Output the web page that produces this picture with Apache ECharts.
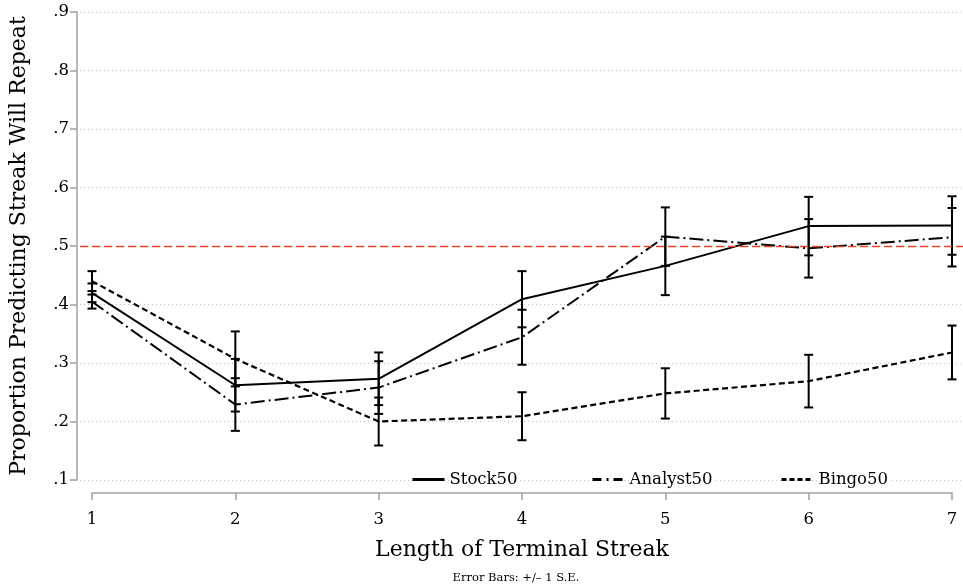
<!DOCTYPE html>
<html>
<head>
<meta charset="utf-8">
<script src="https://cdn.jsdelivr.net/npm/echarts@6/dist/echarts.min.js"></script>
<style>html,body{margin:0;padding:0;background:#fff}#c{width:963px;height:584px}</style>
</head>
<body>
<div id="c"></div>
<script>
const streakLengths = [1, 2, 3, 4, 5, 6, 7];
const stock50 = [0.420, 0.262, 0.273, 0.409, 0.466, 0.534, 0.535];
const stock50SE = [0.016, 0.045, 0.045, 0.048, 0.050, 0.050, 0.050];
const analyst50 = [0.405, 0.229, 0.258, 0.344, 0.516, 0.496, 0.515];
const analyst50SE = [0.012, 0.045, 0.045, 0.047, 0.050, 0.050, 0.050];
const bingo50 = [0.440, 0.307, 0.200, 0.209, 0.248, 0.269, 0.318];
const bingo50SE = [0.017, 0.047, 0.041, 0.041, 0.043, 0.045, 0.046];
const yTicks = [0.1, 0.2, 0.3, 0.4, 0.5, 0.6, 0.7, 0.8, 0.9];
const referenceLevel = 0.5;

const FONT = 'DejaVu Serif';
const chart = echarts.init(document.getElementById('c'));

function pairs(vals) { return streakLengths.map((x, i) => [x, vals[i]]); }
function bars(vals, se) { return streakLengths.map((x, i) => [x, vals[i] - se[i], vals[i] + se[i]]); }
function renderErr(params, api) {
  const x = api.value(0);
  const lo = api.coord([x, api.value(1)]);
  const hi = api.coord([x, api.value(2)]);
  const hw = 4.5;
  const st = { stroke: '#000', lineWidth: 2 };
  return {
    type: 'group',
    children: [
      { type: 'line', shape: { x1: lo[0], y1: lo[1], x2: hi[0], y2: hi[1] }, style: st },
      { type: 'line', shape: { x1: lo[0] - hw, y1: lo[1], x2: lo[0] + hw, y2: lo[1] }, style: st },
      { type: 'line', shape: { x1: hi[0] - hw, y1: hi[1], x2: hi[0] + hw, y2: hi[1] }, style: st }
    ]
  };
}

const lineStyles = {
  Stock50: { color: '#000', width: 2, type: 'solid' },
  Analyst50: { color: '#000', width: 2, type: [14, 4, 2, 4] },
  Bingo50: { color: '#000', width: 2.2, type: [6, 3.5] }
};
const legendDash = { Stock50: 'solid', Analyst50: [9, 5, 2, 5], Bingo50: [5, 3] };

function legendAt(name, left) {
  return {
    data: [name], left: left, top: 470, padding: 0, itemWidth: 32, itemHeight: 14, itemGap: 0,
    itemStyle: { opacity: 0 },
    lineStyle: { width: 3, type: legendDash[name] },
    textStyle: { fontFamily: FONT, fontSize: 16.5, color: '#000', backgroundColor: '#fff', padding: [1, 2, 1, 0] },
    selectedMode: false
  };
}

chart.setOption({
  animation: false,
  backgroundColor: '#fff',
  grid: [
    { left: 91, right: 11, top: 12, bottom: 104 },
    { left: 80, right: 0, top: 12, bottom: 104 }
  ],
  title: {
    text: 'Error Bars: +/\u2013 1 S.E.', left: 511, top: 567, textAlign: 'center',
    textStyle: { fontFamily: FONT, fontSize: 11.5, fontWeight: 'normal', color: '#000' }
  },
  legend: [legendAt('Stock50', 411), legendAt('Analyst50', 591), legendAt('Bingo50', 780)],
  xAxis: [
    {
      gridIndex: 0, type: 'value', min: 1, max: 7, interval: 1, offset: 13,
      name: 'Length of Terminal Streak', nameLocation: 'middle', nameGap: 46,
      nameTextStyle: { fontFamily: FONT, fontSize: 22, color: '#000' },
      axisLine: { lineStyle: { color: '#a0a0a0', width: 1.5 } },
      axisTick: { length: 7, lineStyle: { color: '#a0a0a0', width: 1.5 } },
      axisLabel: { fontFamily: FONT, fontSize: 16.5, color: '#000', margin: 18 },
      splitLine: { show: false }
    },
    { gridIndex: 1, type: 'value', min: 0, max: 1, show: false }
  ],
  yAxis: [
    {
      gridIndex: 0, type: 'value', min: 0.1, max: 0.9, interval: 0.1, offset: 15,
      name: 'Proportion Predicting Streak Will Repeat', nameLocation: 'middle', nameGap: 47,
      nameTextStyle: { fontFamily: FONT, fontSize: 22, color: '#000' },
      axisLine: { show: true, lineStyle: { color: '#a0a0a0', width: 1.5 } },
      axisTick: { show: true, length: 7, lineStyle: { color: '#a0a0a0', width: 1.5 } },
      axisLabel: {
        fontFamily: FONT, fontSize: 16.5, color: '#000', margin: 8,
        formatter: v => v.toFixed(1).replace(/^0/, '')
      },
      splitLine: { show: false }
    },
    {
      gridIndex: 1, type: 'value', min: 0.1, max: 0.9, interval: 0.1,
      axisLine: { show: false }, axisTick: { show: false }, axisLabel: { show: false },
      splitLine: { show: true, lineStyle: { color: '#c4c4c4', width: 1, type: [1, 3] } }
    }
  ],
  series: [
    {
      type: 'line', xAxisIndex: 1, yAxisIndex: 1, data: [], silent: true, z: 1,
      markLine: {
        silent: true, symbol: 'none', label: { show: false },
        lineStyle: { color: '#e8412c', width: 1.3, type: [8, 4] },
        data: [{ yAxis: referenceLevel }]
      }
    },
    { name: 'Stock50', type: 'line', data: pairs(stock50), symbol: 'none', lineStyle: lineStyles.Stock50, itemStyle: { color: '#000' }, z: 3 },
    { name: 'Analyst50', type: 'line', data: pairs(analyst50), symbol: 'none', lineStyle: lineStyles.Analyst50, itemStyle: { color: '#000' }, z: 3 },
    { name: 'Bingo50', type: 'line', data: pairs(bingo50), symbol: 'none', lineStyle: lineStyles.Bingo50, itemStyle: { color: '#000' }, z: 3 },
    { type: 'custom', renderItem: renderErr, data: bars(stock50, stock50SE), z: 4, encode: { x: 0, y: [1, 2] } },
    { type: 'custom', renderItem: renderErr, data: bars(analyst50, analyst50SE), z: 4, encode: { x: 0, y: [1, 2] } },
    { type: 'custom', renderItem: renderErr, data: bars(bingo50, bingo50SE), z: 4, encode: { x: 0, y: [1, 2] } }
  ]
});
</script>
</body>
</html>
